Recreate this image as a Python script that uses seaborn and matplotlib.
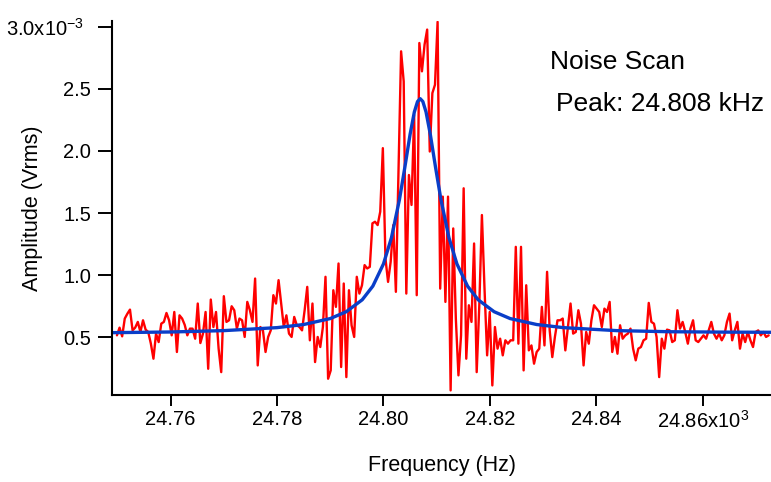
import numpy as np
import pandas as pd
import matplotlib
matplotlib.use("Agg")
import matplotlib.pyplot as plt
import matplotlib.transforms as mtransforms
import seaborn as sns

# ---- data (amplitude in units of 1e-3 Vrms, frequency in kHz) ----
freq_start = 24.7499
freq_step = 0.00049
amp_seg1 = [0.516, 0.578, 0.508, 0.651, 0.690, 0.723, 0.556, 0.578, 0.624, 0.543,
            0.637, 0.562, 0.543, 0.450, 0.328, 0.530, 0.462, 0.610, 0.624, 0.696,
            0.637, 0.516, 0.704, 0.382, 0.677, 0.651, 0.600, 0.516, 0.570, 0.570,
            0.489, 0.772, 0.454, 0.530, 0.704, 0.247, 0.804, 0.583, 0.704, 0.409,
            0.220, 0.831, 0.624, 0.637, 0.750, 0.718, 0.570, 0.651]
amp_seg2 = [0.637, 0.503, 0.785, 0.718, 0.624, 0.973, 0.274, 0.583, 0.556, 0.382,
            0.503, 0.556, 0.839, 0.772, 0.960, 0.772, 0.583, 0.677, 0.530, 0.503,
            0.664, 0.597, 0.583, 0.556, 0.718, 0.906, 0.476, 0.772, 0.301, 0.503,
            0.422, 0.583, 0.987, 0.167, 0.234, 0.879, 0.745, 1.094, 0.261, 0.933,
            0.180, 0.879, 0.597, 0.503, 0.987, 0.852, 0.919, 1.081, 1.054, 1.067,
            1.417, 1.430]
amp_seg3 = [1.403, 1.511, 2.022, 1.134, 0.946, 1.108, 1.403, 0.866, 1.833, 2.801,
            2.559, 0.852, 1.806, 1.565, 2.290, 0.839, 2.868, 2.640, 2.855, 2.976,
            1.995, 2.465, 2.532, 3.038, 0.892, 1.632, 0.785, 1.632, 0.073, 1.376,
            0.651, 0.194, 0.516, 1.699, 0.328, 0.758, 0.624, 1.255, 0.220, 0.758,
            1.484, 0.892, 0.355, 0.704, 0.113, 0.583, 0.409, 0.489, 0.355, 0.476]
amp_seg4 = [0.449, 0.476, 0.476, 1.228, 0.449, 1.228, 0.234, 0.919, 0.395, 0.435,
            0.288, 0.382, 0.409, 0.745, 0.435, 1.027, 0.556, 0.341, 0.503, 0.637,
            0.637, 0.651, 0.395, 0.583, 0.772, 0.530, 0.543, 0.718, 0.610, 0.274,
            0.543, 0.449, 0.637, 0.758, 0.731, 0.704, 0.583, 0.731, 0.704, 0.785,
            0.382, 0.503, 0.368, 0.597, 0.489, 0.516, 0.530, 0.570, 0.409, 0.315,
            0.409]
amp_seg5 = [0.422, 0.476, 0.489, 0.777, 0.624, 0.610, 0.503, 0.180, 0.489, 0.409,
            0.562, 0.556, 0.462, 0.476, 0.718, 0.570, 0.624, 0.543, 0.449, 0.570,
            0.637, 0.476, 0.462, 0.489, 0.516, 0.489, 0.556, 0.624, 0.530, 0.489,
            0.530, 0.476, 0.516, 0.624, 0.691, 0.476, 0.556, 0.624, 0.409, 0.530,
            0.462, 0.543, 0.476, 0.422, 0.543, 0.556, 0.516, 0.543, 0.503, 0.516]

fit_freq = [24.7450, 24.7500, 24.7600, 24.7700, 24.7800, 24.7850, 24.7900, 24.7930,
            24.7960, 24.7980, 24.8000, 24.8015, 24.8030, 24.8040, 24.8050, 24.8058,
            24.8064, 24.8069, 24.8074, 24.8080, 24.8088, 24.8098, 24.8108, 24.8123,
            24.8138, 24.8158, 24.8178, 24.8208, 24.8238, 24.8288, 24.8338, 24.8438,
            24.8538, 24.8638, 24.8760]
fit_amp = [0.536, 0.538, 0.543, 0.554, 0.578, 0.603, 0.651, 0.706,
           0.802, 0.912, 1.091, 1.302, 1.608, 1.864, 2.133, 2.313,
           2.397, 2.420, 2.397, 2.313, 2.133, 1.864, 1.608, 1.302,
           1.091, 0.912, 0.802, 0.706, 0.651, 0.603, 0.578, 0.554,
           0.545, 0.542, 0.540]

x_ticks = [24.76, 24.78, 24.80, 24.82, 24.84, 24.86]
x_tick_labels = ["24.76", "24.78", "24.80", "24.82", "24.84", "24.86x10$^{3}$"]
y_ticks = [0.5, 1.0, 1.5, 2.0, 2.5, 3.0]
y_tick_labels = ["0.5", "1.0", "1.5", "2.0", "2.5", "3.0x10$^{-3}$"]

amp = amp_seg1 + amp_seg2 + amp_seg3 + amp_seg4 + amp_seg5
freq = freq_start + freq_step * np.arange(len(amp))
scan = pd.DataFrame({"freq": freq, "amp": amp})
fit = pd.DataFrame({"freq": fit_freq, "amp": fit_amp})

# ---- style ----
sns.set_theme(style="ticks")
plt.rcParams["font.family"] = ["Liberation Sans", "DejaVu Sans"]
plt.rcParams["mathtext.fontset"] = "custom"
plt.rcParams["mathtext.rm"] = "Liberation Sans"
plt.rcParams["text.color"] = "black"
plt.rcParams["axes.labelcolor"] = "black"

W, H = 771, 482
fig = plt.figure(figsize=(W / 100, H / 100), dpi=100)
ax = fig.add_axes([112 / W, (H - 395) / H, (W - 112) / W, (395 - 21) / H])

sns.lineplot(data=scan, x="freq", y="amp", ax=ax, color="#ff0000", lw=1.7,
             estimator=None, sort=False)
sns.lineplot(data=fit, x="freq", y="amp", ax=ax, color="#0a3ec8", lw=2.4,
             estimator=None, sort=False)

ax.set_xlim(24.74897, 24.87284)
ax.set_ylim(0.036, 3.045)
ax.set_xticks(x_ticks)
ax.set_xticklabels(x_tick_labels)
ax.set_yticks(y_ticks)
ax.set_yticklabels(y_tick_labels)
ax.tick_params(direction="out", length=10, width=1.4, pad=5, labelsize=14.5,
               color="black", labelcolor="black")
ax.tick_params(axis="x", length=8, pad=3)
for s in ["top", "right"]:
    ax.spines[s].set_visible(False)
for s in ["left", "bottom"]:
    ax.spines[s].set_linewidth(1.5)
    ax.spines[s].set_color("black")
ax.set_xlabel("Frequency (Hz)", fontsize=15.5, color="black")
ax.set_ylabel("Amplitude (Vrms)", fontsize=15.5, color="black")
ax.yaxis.set_label_coords((32 - 112) / (W - 112), 0.5)
ax.xaxis.set_label_coords(0.5, -(465 - 395) / (395 - 21))
ax.xaxis.label.set_va("center")
ax.yaxis.label.set_va("center")
ax.grid(False)

# exponent label on the y axis sits slightly further left in the original
top_lbl = ax.get_yticklabels()[-1]
top_lbl.set_transform(top_lbl.get_transform() +
                      mtransforms.ScaledTranslation(-7 / 100, 0, fig.dpi_scale_trans))

fig.text(550 / W, 1 - 62 / H, "Noise Scan", fontsize=19, ha="left", va="center",
         color="black")
fig.text(556 / W, 1 - 104 / H, "Peak: 24.808 kHz", fontsize=19, ha="left",
         va="center", color="black")

fig.savefig("out.png", dpi=100)
